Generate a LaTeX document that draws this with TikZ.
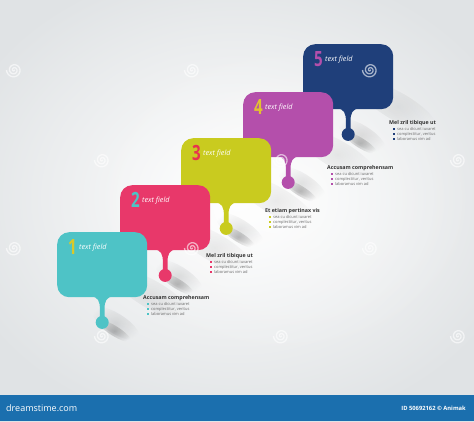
\documentclass[tikz,border=0pt]{standalone}
\usepackage{fontspec}
\setmainfont{Open Sans}
\usetikzlibrary{fadings}
\tikzfading[name=softfade, inner color=transparent!0, outer color=transparent!100]
\definecolor{cTeal}{HTML}{4EC3C6}
\definecolor{cPink}{HTML}{E8386A}
\definecolor{cLime}{HTML}{C9CB1F}
\definecolor{cPurple}{HTML}{B44FAB}
\definecolor{cNavy}{HTML}{1F3F7A}
\definecolor{nYellow}{HTML}{D9C92A}
\definecolor{nRed}{HTML}{E8334E}
\definecolor{nGold}{HTML}{E2C230}
\definecolor{bgEdge}{HTML}{E0E3E5}
\definecolor{barBlue}{HTML}{1B6FAE}
\definecolor{hdrGray}{HTML}{333333}
\definecolor{txtGray}{HTML}{6A6A6A}
\tikzset{
  bubblebox/.style={rounded corners=12pt, minimum width=90pt, minimum height=65pt, anchor=north west, inner sep=0pt},
  dropball/.style={circle, minimum size=13pt, inner sep=0pt},
  digit/.style={anchor=south east, inner sep=0pt, font=\fontsize{21}{21}\selectfont\bfseries},
  fieldtext/.style={anchor=west, inner sep=0pt, text=white, font=\fontsize{7.2}{7}\selectfont\itshape},
  hdr/.style={anchor=west, inner sep=0pt, text=hdrGray, font=\fontsize{5.3}{6}\selectfont\bfseries},
  line/.style={anchor=west, inner sep=0pt, text=txtGray, font=\fontsize{4}{5}\selectfont},
  bsq/.style={minimum size=2pt, inner sep=0pt},
  spiral/.style={draw=white, line width=1.3pt, opacity=0.6},
}
% #1 name, #2 x, #3 y, #4 colour, #5 digit, #6 digit colour
\newcommand\mybubble[6]{%
  \begin{scope}[shift={(#2+90,#3+60)}, rotate=-30]
    \fill[black, opacity=0.07, path fading=softfade] (5,0) ellipse (45pt and 14pt);
  \end{scope}
  \begin{scope}[shift={(#2+45,#3+90)}, rotate=-32]
    \fill[black, opacity=0.22, path fading=softfade] (15,1) ellipse (20pt and 5pt);
    \fill[black, opacity=0.10, path fading=softfade] (12,-6) ellipse (28pt and 10pt);
  \end{scope}
  \node[bubblebox, fill=#4] (box#1) at (#2,#3) {};
  \begin{scope}[shift={(box#1.south)}]
    \fill[#4] (-12,-1) .. controls (-4,-1) and (-2.3,4) .. (-2.3,12) -- (-2.3,20) -- (2.3,20) -- (2.3,12) .. controls (2.3,4) and (4,-1) .. (12,-1) -- cycle;
    \node[dropball, fill=#4] (ball#1) at (0,25) {};
  \end{scope}
  \node[digit, text=#6, xscale=0.72] (num#1) at (#2+20,#3+23) {#5};
  \node[fieldtext] (tf#1) at (#2+22,#3+16) {text field};
}
% #1 name, #2 x, #3 y, #4 colour, #5 header
\newcommand\myinfo[5]{%
  \node[hdr] (h#1) at (#2,#3) {#5};
  \node[bsq, fill=#4] (q#1a) at (#2+5,#3+6) {};
  \node[bsq, fill=#4] (q#1b) at (#2+5,#3+11) {};
  \node[bsq, fill=#4] (q#1c) at (#2+5,#3+16) {};
  \node[line] (l#1a) at (#2+8,#3+6) {sea cu dicunt iuvaret};
  \node[line] (l#1b) at (#2+8,#3+11) {complectitur, veritus};
  \node[line] (l#1c) at (#2+8,#3+16) {laboramus vim ad};
}
\newcommand\myspiral[2]{%
  \draw[spiral, shift={(#1,#2)}, domain=0:900, samples=70, smooth, variable=\t]
    plot ({cos(\t)*\t/120}, {sin(\t)*\t/120});
}
\begin{document}
\begin{tikzpicture}[x=1pt,y=-1pt]
\useasboundingbox (0,0) rectangle (474,421);
\shade[inner color=white, outer color=bgEdge] (-60,-40) rectangle (534,435);
\fill[white, opacity=0.5, path fading=softfade] (280,200) ellipse (200pt and 160pt);
\mybubble{5}{303}{44}{cNavy}{5}{cPurple}
\mybubble{4}{243}{92}{cPurple}{4}{nGold}
\mybubble{3}{181}{138}{cLime}{3}{nRed}
\mybubble{2}{120}{185}{cPink}{2}{cTeal}
\mybubble{1}{57}{232}{cTeal}{1}{nYellow}
\myinfo{1}{143}{298}{cTeal}{Accusam comprehensam}
\myinfo{2}{206}{256}{cPink}{Mel zril tibique ut}
\myinfo{3}{265}{211}{cLime}{Et etiam pertinax vis}
\myinfo{4}{327}{168}{cPurple}{Accusam comprehensam}
\myinfo{5}{389}{123}{cNavy}{Mel zril tibique ut}
\foreach \sx/\sy in {14/70,192/70,370/70,102/160,281/160,458/160,14/248,192/248,370/248,102/336,281/336,458/336}{\myspiral{\sx}{\sy}}
\fill[barBlue] (0,395) rectangle (474,421);
\node[anchor=west, inner sep=0pt, text=white, font=\fontsize{9}{9}\selectfont] (brand) at (6,408) {dreamstime.com};
\node[anchor=east, inner sep=0pt, text=white, font=\fontsize{5.8}{6}\selectfont\bfseries] (credit) at (466,408) {ID 50692162 \textcopyright{} Animak};
\end{tikzpicture}
\end{document}
